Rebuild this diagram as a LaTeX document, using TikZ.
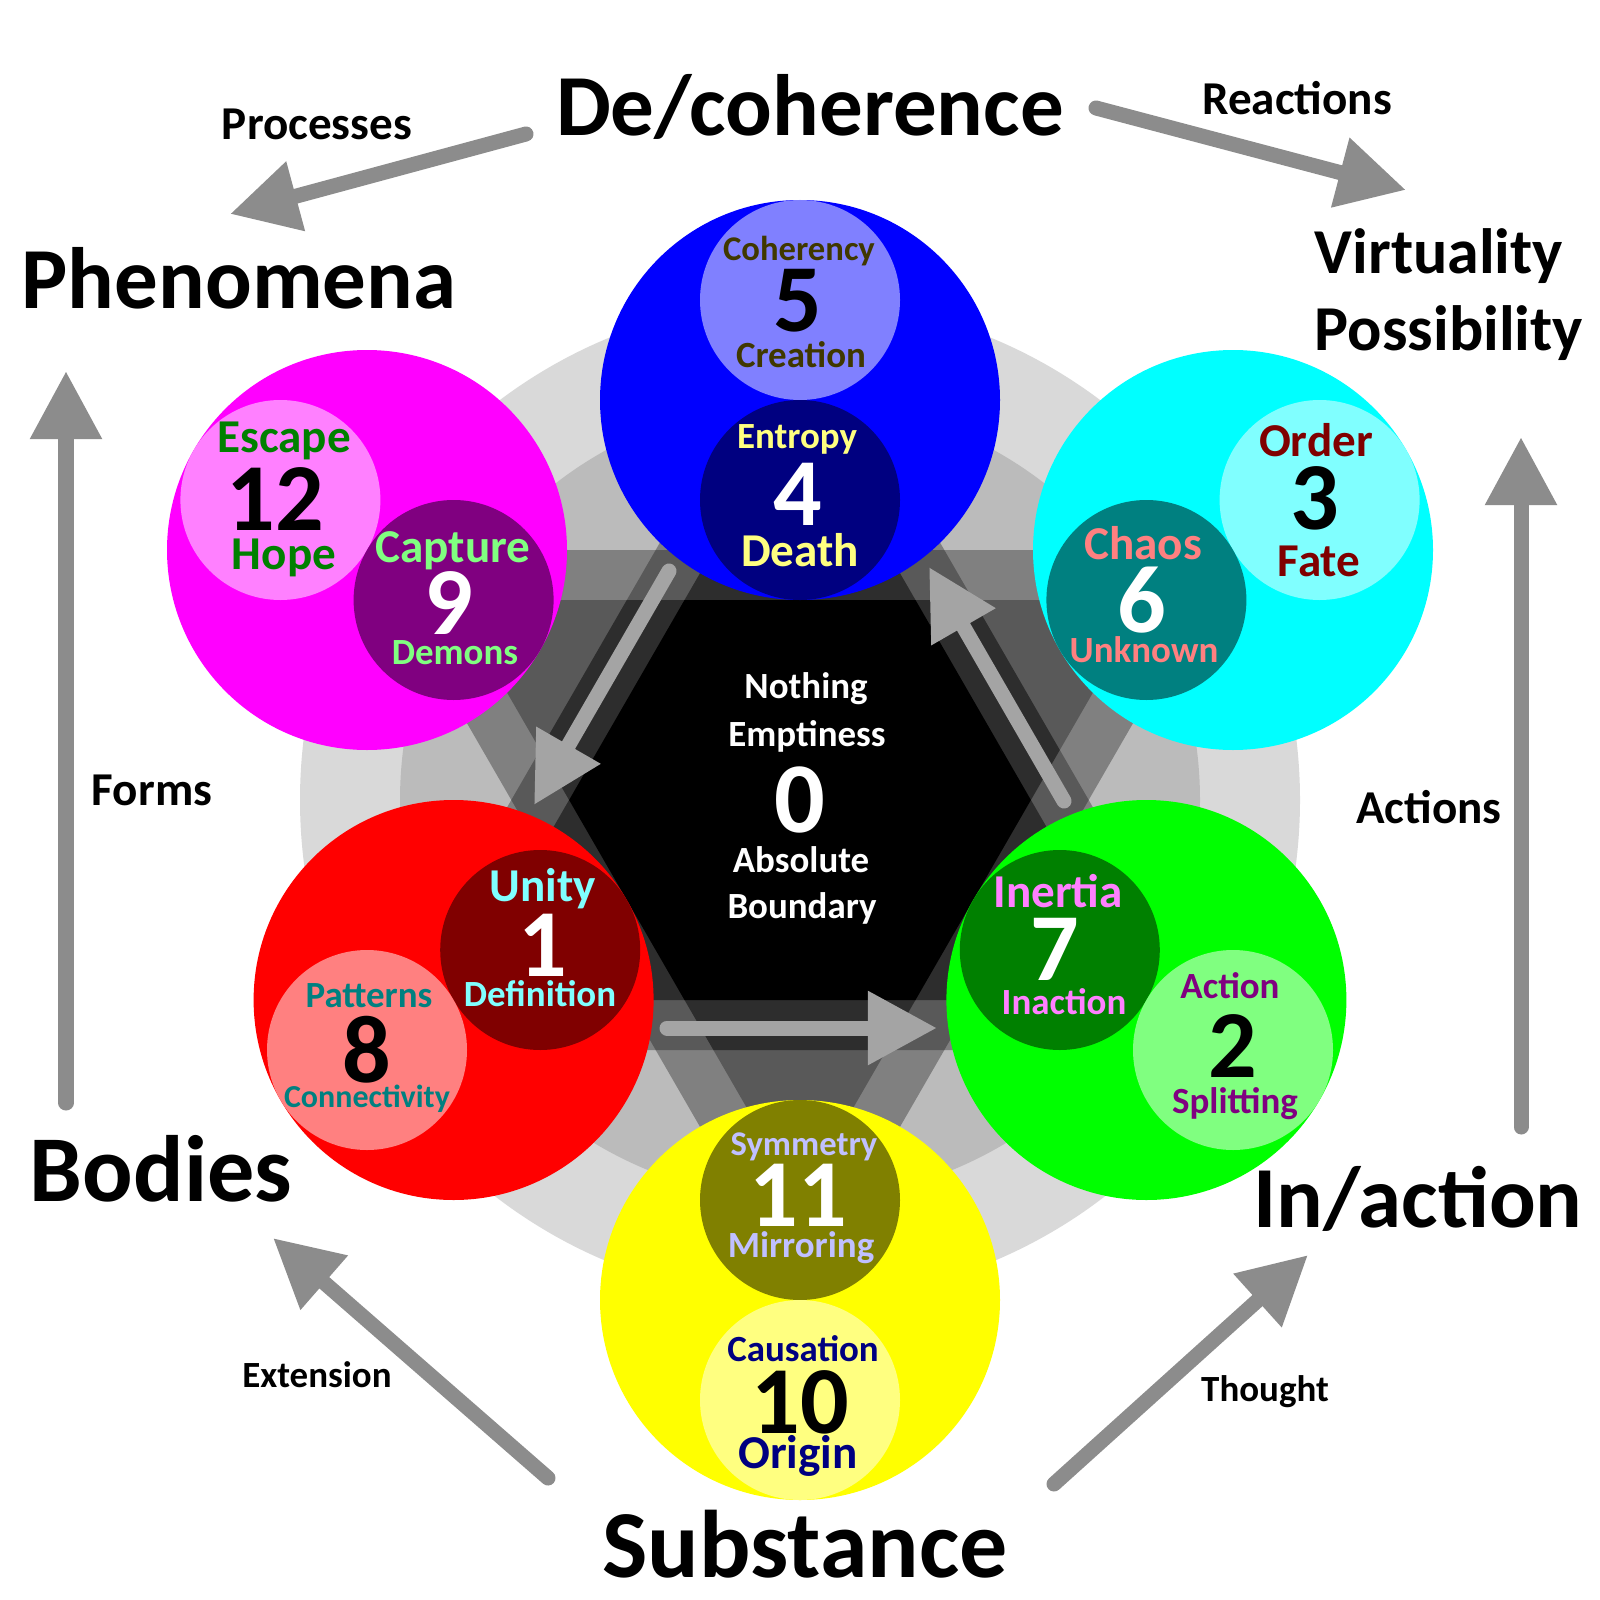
\documentclass[tikz,border=0pt]{standalone}
\usepackage{fontspec}
\setmainfont{Carlito}
\usetikzlibrary{arrows.meta}
\definecolor{bgA}{HTML}{D9D9D9}
\definecolor{bgB}{HTML}{BBBBBB}
\definecolor{gA}{HTML}{808080}
\definecolor{gB}{HTML}{595959}
\definecolor{gC}{HTML}{2D2D2D}
\definecolor{arrOut}{HTML}{8C8C8C}
\definecolor{arrIn}{HTML}{A4A4A4}
\definecolor{cBlue}{HTML}{0000FF}
\definecolor{cBlueL}{HTML}{8080FF}
\definecolor{cNavy}{HTML}{000080}
\definecolor{cMag}{HTML}{FF00FF}
\definecolor{cPink}{HTML}{FF80FF}
\definecolor{cPurple}{HTML}{800080}
\definecolor{cCyan}{HTML}{00FFFF}
\definecolor{cCyanL}{HTML}{80FFFF}
\definecolor{cTeal}{HTML}{008080}
\definecolor{cRed}{HTML}{FF0000}
\definecolor{cSalmon}{HTML}{FF8080}
\definecolor{cMaroon}{HTML}{800000}
\definecolor{cGreen}{HTML}{00FF00}
\definecolor{cGreenL}{HTML}{80FF80}
\definecolor{cDGreen}{HTML}{008000}
\definecolor{cYellow}{HTML}{FFFF00}
\definecolor{cYellowL}{HTML}{FFFF80}
\definecolor{cOlive}{HTML}{808000}
\definecolor{cCoh}{HTML}{403800}
\definecolor{cLav}{HTML}{C0C0FF}
\newcommand\fsz[1]{\fontsize{#1}{#1}\selectfont}
\begin{document}
\begin{tikzpicture}[x=0.01cm,y=-0.01cm,
  lbl/.style={inner sep=0pt, text depth=0pt},
  bigA/.style={lbl, font=\bfseries\fsz{24.75pt}, text height=15.84pt},
  bigB/.style={lbl, font=\bfseries\fsz{26.8pt}, text height=17.15pt},
  bigC/.style={lbl, font=\bfseries\fsz{27.3pt}, text height=17.47pt},
  midT/.style={lbl, font=\bfseries\fsz{18.2pt}, text height=11.65pt},
  smT/.style={lbl, font=\bfseries\fsz{13.4pt}, text height=8.58pt},
  xsT/.style={lbl, font=\bfseries\fsz{10.5pt}, text height=6.72pt},
  wA/.style={lbl, font=\bfseries\fsz{13.4pt}, text height=8.58pt},
  wB/.style={lbl, font=\bfseries\fsz{10.5pt}, text height=6.72pt},
  wC/.style={lbl, font=\bfseries\fsz{9.85pt}, text height=6.3pt},
  wD/.style={lbl, font=\bfseries\fsz{9.1pt}, text height=5.82pt},
  num/.style={lbl, font=\bfseries\fsz{27.3pt}, text height=17.47pt},
  numC/.style={lbl, font=\bfseries\fsz{28.5pt}, text height=18.24pt},
  outarrow/.style={draw=arrOut, line width=1.5mm, line cap=round, -{Triangle[length=6.8mm,width=6.8mm]}, arrOut},
  inarrow/.style={draw=arrIn, line width=1.5mm, line cap=round, -{Triangle[length=6.9mm,width=7mm]}, arrIn}
]
\useasboundingbox (0,0) rectangle (1600,1600);
\fill[white] (0,0) rectangle (1600,1600);
% background rings
\fill[bgA] (800,800) circle (500);
\fill[bgB] (800,800) circle (400);
% big hexagram
\fill[gA] (800,300) -- (367,1050) -- (1233,1050) -- cycle;
\fill[gA] (800,1300) -- (367,550) -- (1233,550) -- cycle;
% level 2
\fill[gB] (1088.7,800) -- (944.3,550) -- (655.7,550) -- (511.3,800) -- (655.7,1050) -- (944.3,1050) -- cycle;
\fill[gB] (800,400) -- (453.6,1000) -- (1146.4,1000) -- cycle;
\fill[gB] (800,1200) -- (453.6,600) -- (1146.4,600) -- cycle;
% level 3
\begin{scope}
  \clip (800,1300) -- (367,550) -- (1233,550) -- cycle;
  \fill[gC] (800,400) -- (453.6,1000) -- (1146.4,1000) -- cycle;
\end{scope}
\begin{scope}
  \clip (800,300) -- (367,1050) -- (1233,1050) -- cycle;
  \fill[gC] (800,1200) -- (453.6,600) -- (1146.4,600) -- cycle;
\end{scope}
% level 4
\fill[black] (1030.9,800) -- (915.5,600) -- (684.5,600) -- (569.1,800) -- (684.5,1000) -- (915.5,1000) -- cycle;

% inner arrows
\coordinate (iaT) at (669,571);
\coordinate (iaH) at (534,805);
\coordinate (ibT) at (667,1028);
\coordinate (ibH) at (937,1028);
\coordinate (icT) at (1064,801);
\coordinate (icH) at (929,567);
\draw[inarrow] (iaT) -- (iaH);
\draw[inarrow] (ibT) -- (ibH);
\draw[inarrow] (icT) -- (icH);

% circles
\fill[cBlue] (800,400) circle (200);
\fill[cBlueL] (800,300) circle (100);
\fill[cNavy] (800,500) circle (100);
\fill[cMag] (367,550) circle (200);
\fill[cPink] (280.4,500) circle (100);
\fill[cPurple] (453.6,600) circle (100);
\fill[cCyan] (1233,550) circle (200);
\fill[cCyanL] (1319.6,500) circle (100);
\fill[cTeal] (1146.4,600) circle (100);
\fill[cRed] (453.6,1000) circle (200);
\fill[cMaroon] (540.2,950) circle (100);
\fill[cSalmon] (367,1050) circle (100);
\fill[cGreen] (1146.4,1000) circle (200);
\fill[cDGreen] (1059.8,950) circle (100);
\fill[cGreenL] (1233,1050) circle (100);
\fill[cYellow] (800,1300) circle (200);
\fill[cOlive] (800,1200) circle (100);
\fill[cYellowL] (800,1400) circle (100);

% circle texts
\node[wC, text=cCoh] (t5a) at (799,249) {Coherency};
\node[num] (t5) at (798,301) {5};
\node[wB, text=cCoh] (t5b) at (801,356) {Creation};
\node[wB, text=cYellowL] (t4a) at (797,437) {Entropy};
\node[num, text=white] (t4) at (798,495) {4};
\node[wA, text=cYellowL] (t4b) at (800,551) {Death};

\node[wA, text=cDGreen] (t12a) at (284,437) {Escape};
\node[num] (t12) at (275,500) {12};
\node[wA, text=cDGreen] (t12b) at (284,554) {Hope};
\node[wA, text=cGreenL] (t9a) at (453,547) {Capture};
\node[num, text=white] (t9) at (449,604) {9};
\node[wB, text=cGreenL] (t9b) at (455,653) {Demons};

\node[wA, text=cMaroon] (t3a) at (1316,441) {Order};
\node[num] (t3) at (1315,499) {3};
\node[wA, text=cMaroon] (t3b) at (1319,561) {Fate};
\node[wA, text=cSalmon] (t6a) at (1143,544) {Chaos};
\node[num, text=white] (t6) at (1142,602) {6};
\node[wB, text=cSalmon] (t6b) at (1144,651) {Unknown};

\node[wA, text=cCyanL] (t1a) at (543,886) {Unity};
\node[num, text=white] (t1) at (543,946) {1};
\node[wB, text=cCyanL] (t1b) at (540,995) {Definition};
\node[wB, text=cTeal] (t8a) at (369,996) {Patterns};
\node[num] (t8) at (367,1052) {8};
\node[wD, text=cTeal] (t8b) at (367,1097) {Connectivity};

\node[wA, text=cPink] (t7a) at (1058,892) {Inertia};
\node[num, text=white] (t7) at (1055,950) {7};
\node[wB, text=cPink] (t7b) at (1064,1003) {Inaction};
\node[wB, text=cPurple] (t2a) at (1230,987) {Action};
\node[num] (t2) at (1233,1047) {2};
\node[wB, text=cPurple] (t2b) at (1235,1102) {Splitting};

\node[wC, text=cLav] (t11a) at (804,1144) {Symmetry};
\node[num, text=white] (t11) at (798,1196) {11};
\node[wB, text=cLav] (t11b) at (801,1246) {Mirroring};
\node[wB, text=cNavy] (t10a) at (803,1350) {Causation};
\node[num] (t10) at (800,1403) {10};
\node[wA, text=cNavy] (t10b) at (798,1453) {Origin};

% center
\node[wB, text=white] (c1) at (806,687) {Nothing};
\node[wB, text=white] (c2) at (807,735) {Emptiness};
\node[numC, text=white] (c0) at (800,800) {0};
\node[wB, text=white] (c3) at (801,861) {Absolute};
\node[wB, text=white] (c4) at (802,907) {Boundary};

% outer labels
\node[bigA] (deco) at (810,108) {De/coherence};
\node[bigA] (phen) at (239,281) {Phenomena};
\node[midT, anchor=west] (virt) at (1314,253) {Virtuality};
\node[midT, anchor=west] (poss) at (1314,330) {Possibility};
\node[bigB] (bod) at (161,1171) {Bodies};
\node[bigA] (inact) at (1418,1200) {In/action};
\node[bigC] (subs) at (805,1547) {Substance};
\node[smT] (proc) at (317,124) {Processes};
\node[smT] (reac) at (1297,99) {Reactions};
\node[smT] (forms) at (152,790) {Forms};
\node[smT] (acts) at (1429,808) {Actions};
\node[xsT] (ext) at (317,1376) {Extension};
\node[xsT] (thou) at (1265,1390) {Thought};

% outer arrows
\coordinate (pT) at (526,134);
\coordinate (pH) at (230,214);
\coordinate (rT) at (1096,108);
\coordinate (rH) at (1406,190);
\coordinate (fT) at (66,1103);
\coordinate (fH) at (66,371);
\coordinate (aT) at (1521,1127);
\coordinate (aH) at (1521,437);
\coordinate (eT) at (548,1478);
\coordinate (eH) at (273,1238);
\coordinate (tT) at (1054,1484);
\coordinate (tH) at (1308,1255);
\draw[outarrow] (pT) -- (pH);
\draw[outarrow] (rT) -- (rH);
\draw[outarrow] (fT) -- (fH);
\draw[outarrow] (aT) -- (aH);
\draw[outarrow] (eT) -- (eH);
\draw[outarrow] (tT) -- (tH);
\end{tikzpicture}
\end{document}
